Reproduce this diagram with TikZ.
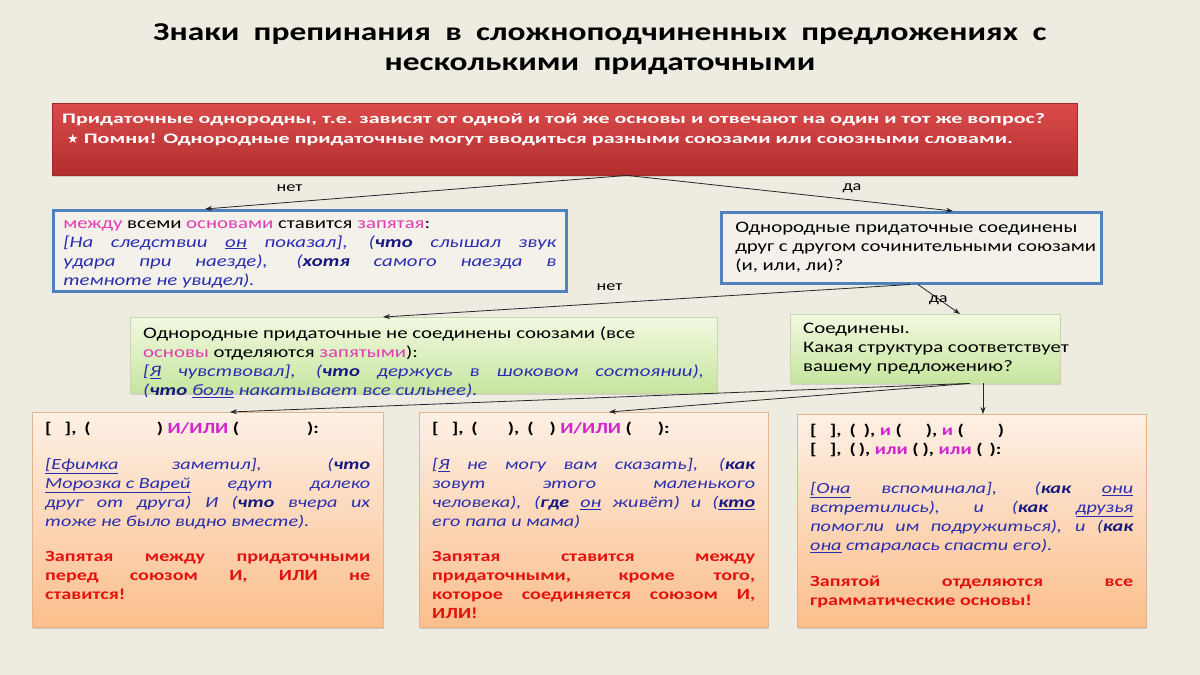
\documentclass[tikz,border=0pt]{standalone}
\usepackage{fontspec}
\setmainfont[FakeStretch=1.3]{Carlito}
\newfontfamily\headfont[FakeStretch=1.3,WordSpace=1.9]{Carlito}
\newfontfamily\qfont[FakeStretch=1.52]{Carlito}
\newfontfamily\symfont{DejaVu Sans}
\usetikzlibrary{arrows.meta,shadows,positioning}
\definecolor{slidebg}{HTML}{EEEBE1}
\definecolor{qtop}{HTML}{DA4B4B}
\definecolor{qbot}{HTML}{B32E2E}
\definecolor{qline}{HTML}{9C2B2B}
\definecolor{askline}{HTML}{4F81BD}
\definecolor{askfill}{HTML}{F3F1EA}
\definecolor{grtop}{HTML}{F1F9E0}
\definecolor{grbot}{HTML}{C7E59E}
\definecolor{grline}{HTML}{C9D7AE}
\definecolor{ortop}{HTML}{FDF0E5}
\definecolor{orbot}{HTML}{FBBE8B}
\definecolor{orline}{HTML}{E6B48C}
\definecolor{exblue}{HTML}{2A2DB0}
\definecolor{kwblue}{HTML}{17177E}
\definecolor{pinkc}{HTML}{E23CB4}
\definecolor{conjc}{HTML}{D424D0}
\definecolor{warnred}{HTML}{E3120F}
\newcommand{\kw}[1]{{\bfseries\color{kwblue}#1}}
\newcommand{\hl}[1]{{\color{pinkc}#1}}
\newcommand{\cj}[1]{{\color{conjc}#1}}
\newcommand{\gap}[1]{\hspace*{#1pt}}
\newcommand{\oneline}[1]{\makebox[0pt][l]{#1}}
\tikzset{
  title/.style={align=center,font=\headfont\bfseries\fontsize{25.7}{30}\selectfont},
  qbox/.style={anchor=north west,draw=qline,top color=qtop,bottom color=qbot,
    inner xsep=10pt,inner ysep=10pt,text=white,
    drop shadow={opacity=0.3,shadow xshift=1pt,shadow yshift=-2pt},
    font=\qfont\bfseries\fontsize{14.5}{20}\selectfont},
  askbox/.style={anchor=north west,draw=askline,line width=2.5pt,fill=askfill,
    inner xsep=10pt,inner ysep=10pt,font=\fontsize{16}{19}\selectfont},
  greenbox/.style={anchor=north west,draw=grline,top color=grtop,bottom color=grbot,
    inner xsep=13pt,inner ysep=10pt,
    drop shadow={opacity=0.25,shadow xshift=1pt,shadow yshift=-2pt},
    font=\fontsize{16}{19}\selectfont},
  rulebox/.style={anchor=north west,draw=orline,top color=ortop,bottom color=orbot,
    inner xsep=13pt,inner ysep=10pt,
    drop shadow={opacity=0.3,shadow xshift=1pt,shadow yshift=-2pt},
    font=\fontsize{15.5}{19}\selectfont},
  link/.style={-{Stealth[length=7pt,width=5pt]},line width=0.8pt,draw=black!85},
  ans/.style={font=\fontsize{14}{14}\selectfont,inner sep=1pt},
}

\begin{document}
\begin{tikzpicture}[x=1pt,y=-1pt]
\fill[slidebg] (0,0) rectangle (1200,675);
\useasboundingbox (0,0) rectangle (1200,675);

% heading
\node[title] (head) at (600,49) {Знаки препинания в сложноподчиненных предложениях с\\несколькими придаточными};

% the question on top
\node[qbox] (q) at (52,103) {\parbox[t][52pt][t]{1005pt}{Придаточные однородны, т.е. зависят от одной и той же основы и отвечают на один и тот же вопрос?\\
\gap{5}{\symfont\fontsize{13}{13}\selectfont ★} Помни! Однородные придаточные могут вводиться разными союзами или союзными словами.}};

% second level
\node[askbox] (allcomma) at (52,209) {\parbox[t][61pt][t]{493pt}{\hl{между} всеми \hl{основами} ставится \hl{запятая}:\par
{\itshape\color{exblue}[На следствии \underline{он} показал], (\kw{что} слышал звук\linebreak
удара при наезде), (\kw{хотя} самого наезда в\linebreak
темноте не увидел).}}};
\node[askbox,inner xsep=14pt] (linked) at (720,211) {\parbox[t][51pt][t]{352pt}{\oneline{Однородные придаточные соединены}\\
\oneline{друг с другом сочинительными союзами}\\
\oneline{(и, или, ли)?}}};

% third level
\node[greenbox] (nolink) at (130,317) {\parbox[t][56pt][t]{561pt}{Однородные придаточные не соединены союзами (все\\
\hl{основы} отделяются \hl{запятыми}):\par
{\itshape\color{exblue}[\underline{Я} чувствовал], (\kw{что} держусь в шоковом состоянии),\linebreak
(\kw{что} \underline{боль} накатывает все сильнее).}}};
\node[greenbox,inner ysep=9pt] (joined) at (790,314) {\parbox[t][51pt][t]{244pt}{\oneline{Соединены.}\\
\oneline{Какая структура соответствует}\\
\oneline{вашему предложению?}}};

% the three patterns
\node[rulebox] (oneand) at (32,412) {\parbox[t][195pt][t]{325pt}{{\bfseries [\gap{13}],\gap{8}(\gap{66}) \cj{И/ИЛИ} (\gap{68}):}\par\vspace{17pt}
{\itshape\color{exblue}\underline{[Ефимка} заметил], (\kw{что}\linebreak
\underline{Морозка с Варей} едут далеко\linebreak
друг от друга) И (\kw{что} вчера их\linebreak
тоже не было видно вместе).}\par\vspace{16pt}
{\bfseries\color{warnred}Запятая между придаточными\linebreak
перед союзом И, ИЛИ не\linebreak
ставится!}}};
\node[rulebox] (lastand) at (419,412) {\parbox[t][195pt][t]{323pt}{{\bfseries [\gap{13}],\gap{8}(\gap{30}),\gap{8}(\gap{16}) \cj{И/ИЛИ} (\gap{26}):}\par\vspace{17pt}
{\itshape\color{exblue}[\underline{Я} не могу вам сказать], (\kw{как}\linebreak
зовут этого маленького\linebreak
человека), (\kw{где} \underline{он} живёт) и (\underline{\kw{кто}}\linebreak
его папа и мама)}\par\vspace{16pt}
{\bfseries\color{warnred}Запятая ставится между\linebreak
придаточными, кроме того,\linebreak
которое соединяется союзом И,\linebreak
ИЛИ!}}};
\node[rulebox] (eachand) at (797,414) {\parbox[t][193pt][t]{323pt}{{\bfseries [\gap{13}],\gap{8}(\gap{8}), \cj{и} (\gap{24}), \cj{и} (\gap{34})\\
{}[\gap{13}],\gap{8}(\gap{3}), \cj{или} (\gap{4}), \cj{или} (\gap{7}):}\par\vspace{20pt}
{\itshape\color{exblue}\underline{[Она} вспоминала], (\kw{как} \underline{они}\linebreak
встретились), и (\kw{как} \underline{друзья}\linebreak
помогли им подружиться), и (\kw{как}\linebreak
\underline{она} старалась спасти его).}\par\vspace{17pt}
{\bfseries\color{warnred}Запятой отделяются все\linebreak
грамматические основы!}}};

% connectors
\draw[link] ([xshift=575pt]q.south west) -- node[ans,pos=0.8,above=9pt] {нет} ([xshift=153pt]allcomma.north west);
\draw[link] ([xshift=575pt]q.south west) -- node[ans,pos=0.69,above=6pt] {да} ([xshift=233pt]linked.north west);
\draw[link] ([xshift=190pt]linked.south west) -- node[ans,pos=0.57,above=11pt] {нет} ([xshift=253pt]nolink.north west);
\draw[link] ([xshift=198pt]linked.south west) -- node[ans,pos=0.55,left=-8pt] {да} ([xshift=170pt]joined.north west);
\draw[link] ([xshift=180pt]joined.south west) -- ([xshift=198pt]oneand.north west);
\draw[link] ([xshift=180pt]joined.south west) -- ([xshift=190pt]lastand.north west);
\draw[link] ([xshift=193pt]joined.south west) -- ([xshift=186pt]eachand.north west);

\end{tikzpicture}
\end{document}
